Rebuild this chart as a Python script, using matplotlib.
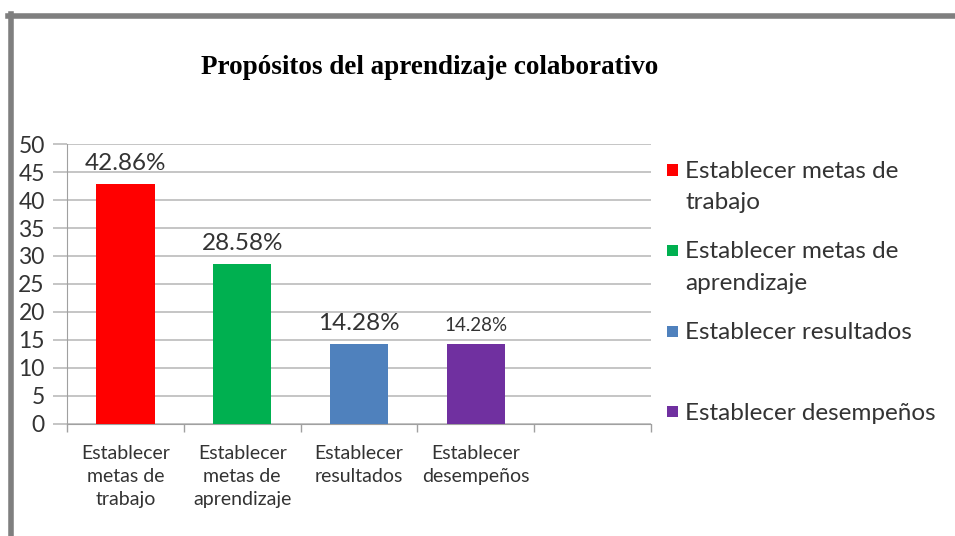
import matplotlib.pyplot as plt
from matplotlib.patches import Rectangle
from matplotlib.lines import Line2D

categories = ["Establecer\nmetas de\ntrabajo", "Establecer\nmetas de\naprendizaje",
              "Establecer\nresultados", "Establecer\ndesempeños"]
legend_labels = ["Establecer metas de\ntrabajo", "Establecer metas de\naprendizaje",
                 "Establecer resultados", "Establecer desempeños"]
values = [42.86, 28.58, 14.28, 14.28]
value_labels = ["42.86%", "28.58%", "14.28%", "14.28%"]
title = "Propósitos del aprendizaje colaborativo"

colors = ["#ff0000", "#00b050", "#4f81bd", "#7030a0"]
label_sizes = [17.5, 17.5, 17.5, 13.5]
n_slots = 5

plt.rcParams['font.family'] = ['Lato', 'DejaVu Sans']

fig = plt.figure(figsize=(9.55, 5.36), dpi=100)
W, H = 955, 536

# gray frame (top and left edges)
fig.add_artist(Line2D([8 / W, 1], [1 - 16 / H, 1 - 16 / H], color="#7f7f7f", lw=4,
                      transform=fig.transFigure))
fig.add_artist(Line2D([10.5 / W, 10.5 / W], [0, 1 - 14 / H], color="#7f7f7f", lw=4,
                      transform=fig.transFigure))

ax = fig.add_axes([67 / W, 112 / H, 584 / W, 280 / H])

xpos = [i + 0.5 for i in range(len(values))]
ax.bar(xpos, values, width=0.5, color=colors, zorder=3)

for x, v, lab, fs in zip(xpos, values, value_labels, label_sizes):
    ax.annotate(lab, (x, v), xytext=(0, 7.5), textcoords="offset points",
                ha="center", va="bottom", fontsize=fs, color="#333333")

ax.set_xlim(0, n_slots)
ax.set_ylim(0, 50)
ax.set_yticks(range(0, 51, 5))
ax.set_xticks(range(0, n_slots + 1))
ax.set_xticklabels([])
ax.set_xticks(xpos, minor=True)
ax.set_xticklabels(categories, minor=True, fontsize=14, color="#333333", linespacing=1.45)
ax.tick_params(axis="x", which="minor", length=0, pad=15)
ax.tick_params(axis="x", which="major", length=6, color="#a0a0a0", width=1)
ax.tick_params(axis="y", length=10, color="#c0c0c0", width=1.3, labelsize=16.5,
               labelcolor="#333333", pad=6)
ax.yaxis.grid(True, color="#c0c0c0", lw=1.3, zorder=0)

for s in ["top", "right"]:
    ax.spines[s].set_visible(False)
ax.spines["left"].set_color("#a0a0a0")
ax.spines["bottom"].set_color("#a0a0a0")

fig.text(430 / W, 1 - 68 / H, title, ha="center", va="center", fontsize=19.5,
         fontweight="bold", family=["Liberation Serif", "DejaVu Serif"])

# legend
sq = 11
for i, (lab, c) in enumerate(zip(legend_labels, colors)):
    yc = 170 + i * 80.5
    fig.add_artist(Rectangle((667 / W, 1 - (yc + sq / 2) / H), sq / W, sq / H,
                             facecolor=c, transform=fig.transFigure))
    fig.text(685 / W, 1 - (yc - 9) / H, lab, ha="left", va="top", fontsize=17.5,
             color="#333333", linespacing=1.6)

fig.savefig("out.png", dpi=100)
